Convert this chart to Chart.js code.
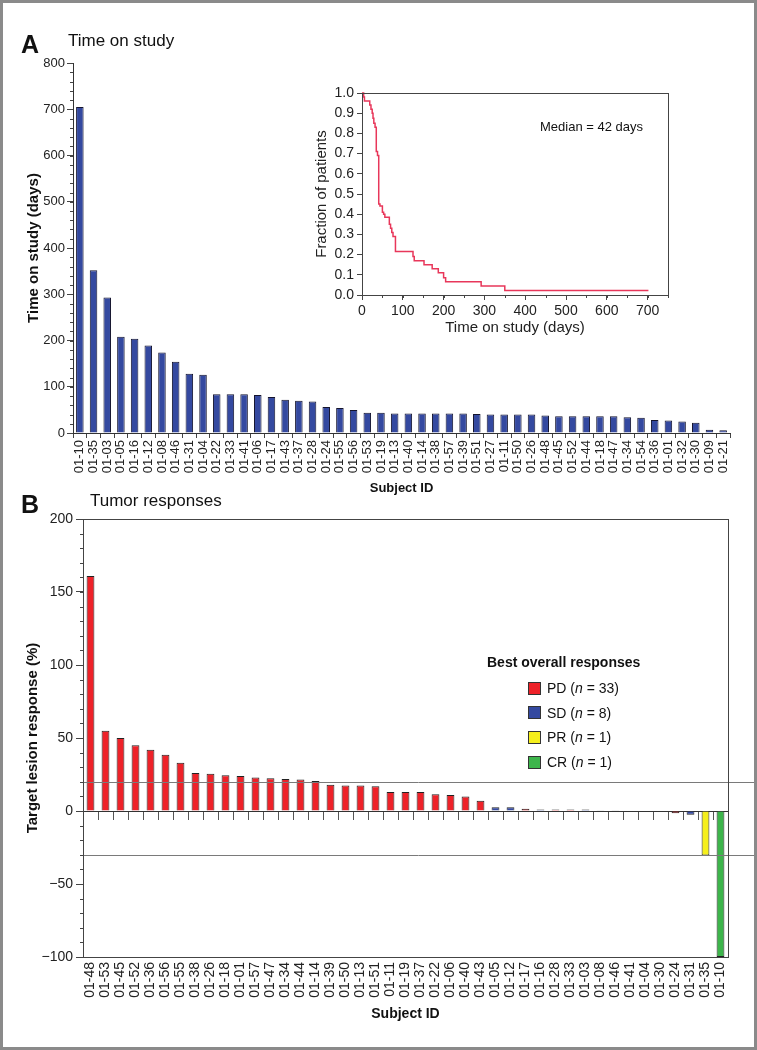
<!DOCTYPE html>
<html>
<head>
<meta charset="utf-8">
<script src="https://cdn.jsdelivr.net/npm/chart.js@4.4.1/dist/chart.umd.min.js"></script>
<style>
  html, body { margin: 0; padding: 0; background: #fff; }
  #page { position: relative; width: 757px; height: 1050px; overflow: hidden;
          font-family: 'Liberation Sans', Arial, sans-serif; color: #111; }
  #page canvas { position: absolute; }
  .txt { position: absolute; white-space: nowrap; line-height: 1; }
  .sw { position: absolute; width: 11px; height: 11px; border: 1px solid #333; }
  #frame { position: absolute; left: 0; top: 0; width: 757px; height: 1050px;
           box-sizing: border-box; border: 3px solid #8a8a8a; pointer-events: none; }
</style>
</head>
<body>
<div id="page">
  <canvas id="chartA" width="757" height="500" style="left:0;top:0"></canvas>
  <canvas id="chartInset" width="400" height="260" style="left:300px;top:80px"></canvas>
  <canvas id="chartB" width="757" height="550" style="left:0;top:500px"></canvas>

  <div class="txt" style="left:21px;top:32px;font-size:25px;font-weight:bold">A</div>
  <div class="txt" style="left:68px;top:32px;font-size:17px">Time on study</div>
  <div class="txt" style="left:540px;top:120px;font-size:13px">Median = 42 days</div>

  <div class="txt" style="left:21px;top:492px;font-size:25px;font-weight:bold">B</div>
  <div class="txt" style="left:90px;top:492px;font-size:17px">Tumor responses</div>

  <div id="legendB"></div>
  <div id="frame"></div>
</div>

<script>
Chart.defaults.font.family = "'Liberation Sans', Arial, sans-serif";
Chart.defaults.color = '#222';

// Panel A: time on study per subject (days)
const subjectsA = ['01-10','01-35','01-03','01-05','01-16','01-12','01-08','01-46','01-31','01-04',
  '01-22','01-33','01-41','01-06','01-17','01-43','01-37','01-28','01-24','01-55',
  '01-56','01-53','01-19','01-13','01-40','01-14','01-38','01-57','01-39','01-51',
  '01-27','01-11','01-50','01-26','01-48','01-45','01-52','01-44','01-18','01-47',
  '01-34','01-54','01-36','01-01','01-32','01-30','01-09','01-21'];
const daysA = [705, 352, 293, 208, 204, 189, 174, 154, 128, 126,
  84, 84, 84, 82, 78, 72, 70, 68, 56, 54,
  50, 44, 44, 42, 42, 42, 42, 42, 42, 41,
  40, 40, 40, 40, 38, 36, 36, 36, 36, 36,
  34, 33, 28, 27, 25, 22, 7, 6];

// Inset: fraction of patients still on study (step points)
const kmDays = [0, 4, 6, 19, 22, 25, 27, 29, 32, 35, 38, 41, 44, 50, 53, 56, 67, 70, 73, 76,
  82, 125, 128, 152, 172, 187, 200, 205, 292, 350, 702];
const kmFraction = [1.0, 0.98, 0.96, 0.94, 0.92, 0.90, 0.875, 0.85, 0.83, 0.71, 0.69, 0.45, 0.44,
  0.41, 0.40, 0.385, 0.35, 0.33, 0.31, 0.29, 0.215, 0.19, 0.17, 0.15, 0.13, 0.11, 0.085,
  0.065, 0.044, 0.022, 0.022];
const insetTicksX = [0, 100, 200, 300, 400, 500, 600, 700];

// Panel B: target lesion response (%)
const subjectsB = ['01-48','01-53','01-45','01-52','01-36','01-56','01-55','01-38','01-26','01-18',
  '01-01','01-57','01-47','01-34','01-44','01-14','01-39','01-50','01-13','01-51',
  '01-11','01-19','01-37','01-22','01-06','01-40','01-43','01-05','01-12','01-17',
  '01-16','01-28','01-33','01-03','01-08','01-46','01-41','01-04','01-30','01-24',
  '01-31','01-35','01-10'];
const responseB = [161, 55, 50, 45, 42, 38.5, 33, 26, 25.5, 24.5,
  24, 23, 22.5, 22, 21.5, 20.5, 18, 17.5, 17.5, 17,
  13, 13, 13, 11.5, 11, 10, 7, 2.5, 2.5, 1.5,
  1, 1, 1, 1, 0.5, 0.5, 0, 0, 0, -1.5,
  -2.5, -30.5, -100];
const bestResponseB = ['PD','PD','PD','PD','PD','PD','PD','PD','PD','PD',
  'PD','PD','PD','PD','PD','PD','PD','PD','PD','PD',
  'PD','PD','PD','PD','PD','PD','PD','SD','SD','PD',
  'SD','PD','PD','SD','SD','SD','SD','PD','PD','PD',
  'SD','PR','CR'];
const legendClasses = ['PD', 'SD', 'PR', 'CR'];
const legendCounts = [33, 8, 1, 1];
const thresholdLines = [20, -30];

const classColors = { PD: '#ee2229', SD: '#3449a0', PR: '#f5ef1c', CR: '#3db54b' };

// small tick marks between the labelled ones
function minorTicks(axisId, step, len) {
  return {
    id: 'minor_' + axisId,
    afterDraw(chart) {
      const s = chart.scales[axisId];
      const ctx = chart.ctx;
      const n = Math.round((s.max - s.min) / step);
      ctx.save();
      ctx.strokeStyle = '#444';
      ctx.lineWidth = 1;
      ctx.beginPath();
      for (let i = 0; i <= n; i++) {
        const p = Math.round(s.getPixelForValue(s.min + i * step)) + 0.5;
        if (s.isHorizontal()) {
          ctx.moveTo(p, s.top); ctx.lineTo(p, s.top + len);
        } else {
          ctx.moveTo(s.right, p); ctx.lineTo(s.right - len, p);
        }
      }
      ctx.stroke();
      ctx.restore();
    }
  };
}

const boxPlugin = {
  id: 'box',
  afterDraw(chart) {
    const a = chart.chartArea, ctx = chart.ctx;
    ctx.save();
    ctx.strokeStyle = '#444';
    ctx.lineWidth = 1;
    ctx.strokeRect(Math.round(a.left) + 0.5, Math.round(a.top) + 0.5,
      Math.round(a.right - a.left), Math.round(a.bottom - a.top));
    ctx.restore();
  }
};

const refLinesPlugin = {
  id: 'refLines',
  afterDatasetsDraw(chart) {
    const y = chart.scales.y, ctx = chart.ctx;
    ctx.save();
    ctx.strokeStyle = '#7a7a7a';
    ctx.lineWidth = 1;
    thresholdLines.forEach(v => {
      const p = Math.round(y.getPixelForValue(v)) + 0.5;
      ctx.beginPath();
      ctx.moveTo(chart.chartArea.left, p);
      ctx.lineTo(chart.width - 3, p);
      ctx.stroke();
    });
    ctx.restore();
  }
};

// Gráfico A: tempo em estudo
new Chart(document.getElementById('chartA'), {
  type: 'bar',
  data: {
    labels: subjectsA,
    datasets: [{
      data: daysA,
      backgroundColor: '#3449a0',
      borderColor: '#14142e',
      borderWidth: 1,
      barPercentage: 0.55,
      categoryPercentage: 1
    }]
  },
  options: {
    responsive: false,
    animation: false,
    layout: { padding: { left: 0, right: 27, top: 63, bottom: 0 } },
    plugins: { legend: { display: false }, tooltip: { enabled: false } },
    scales: {
      x: {
        grid: { drawOnChartArea: false, tickLength: 5, color: '#444' },
        border: { color: '#333' },
        ticks: { font: { size: 13 }, minRotation: 90, maxRotation: 90, autoSkip: false, padding: 2 },
        title: { display: true, text: 'Subject ID', font: { size: 13, weight: 'bold' }, color: '#111',
                 padding: { top: 0, bottom: 4 } },
        afterFit(s) { s.height = 67; }
      },
      y: {
        min: 0,
        max: 800,
        ticks: { stepSize: 100, font: { size: 13 }, padding: 2 },
        grid: { drawOnChartArea: false, tickLength: 6, color: '#444' },
        border: { color: '#333' },
        title: { display: true, text: 'Time on study (days)', font: { size: 15, weight: 'bold' }, color: '#111',
                 padding: { top: 25, bottom: 0 } },
        afterFit(s) { s.width = 73; }
      }
    }
  },
  plugins: [minorTicks('y', 20, 3)]
});

// Inset: fraction of patients
new Chart(document.getElementById('chartInset'), {
  type: 'line',
  data: {
    datasets: [{
      data: kmDays.map((d, i) => ({ x: d, y: kmFraction[i] })),
      borderColor: '#e8375a',
      borderWidth: 1.5,
      stepped: 'before',
      pointRadius: 0,
      fill: false,
      clip: false
    }]
  },
  options: {
    responsive: false,
    animation: false,
    layout: { padding: { left: 0, right: 32, top: 13, bottom: 0 } },
    plugins: { legend: { display: false }, tooltip: { enabled: false } },
    scales: {
      x: {
        type: 'linear',
        min: 0,
        max: 750,
        afterBuildTicks(s) { s.ticks = insetTicksX.map(v => ({ value: v })); },
        ticks: { font: { size: 14 }, padding: 3, maxRotation: 0, autoSkip: false },
        grid: { drawOnChartArea: false, tickLength: 5, color: '#444' },
        border: { color: '#444' },
        title: { display: true, text: 'Time on study (days)', font: { size: 15 }, padding: { top: 0, bottom: 3 } },
        afterFit(s) { s.height = 45; }
      },
      y: {
        min: 0,
        max: 1,
        ticks: { stepSize: 0.1, font: { size: 14 }, padding: 3, callback: v => v.toFixed(1) },
        grid: { drawOnChartArea: false, tickLength: 5, color: '#444' },
        border: { color: '#444' },
        title: { display: true, text: 'Fraction of patients', font: { size: 15 }, padding: { top: 13, bottom: 0 } },
        afterFit(s) { s.width = 62; }
      }
    }
  },
  plugins: [minorTicks('x', 50, 3), boxPlugin]
});

// Gráfico B: resposta tumoral
new Chart(document.getElementById('chartB'), {
  type: 'bar',
  data: {
    labels: subjectsB,
    datasets: [{
      data: responseB,
      backgroundColor: bestResponseB.map(c => classColors[c]),
      borderColor: '#222',
      borderWidth: ctx => (responseB[ctx.dataIndex] === 0 ? 0 : 1),
      barPercentage: 0.52,
      categoryPercentage: 1
    }]
  },
  options: {
    responsive: false,
    animation: false,
    layout: { padding: { left: 0, right: 29, top: 19, bottom: 23 } },
    plugins: { legend: { display: false }, tooltip: { enabled: false } },
    scales: {
      x: {
        grid: { drawOnChartArea: false, drawTicks: false, color: '#444' },
        border: { color: '#444' },
        ticks: { font: { size: 14 }, minRotation: 90, maxRotation: 90, autoSkip: false, padding: 5 },
        title: { display: true, text: 'Subject ID', font: { size: 14, weight: 'bold' }, color: '#111',
                 padding: { top: 0, bottom: 4 } },
        afterFit(s) { s.height = 70; }
      },
      x2: {
        type: 'category',
        position: { y: 0 },
        offset: true,
        grid: { offset: true, drawOnChartArea: false, tickLength: 8, color: '#555' },
        border: { color: '#333' },
        ticks: { display: false }
      },
      y: {
        min: -100,
        max: 200,
        ticks: { stepSize: 50, font: { size: 14 }, padding: 3,
                 callback: v => (v < 0 ? '\u2212' + Math.abs(v) : '' + v) },
        grid: { drawOnChartArea: false, tickLength: 7, color: '#444' },
        border: { color: '#444' },
        title: { display: true, text: 'Target lesion response (%)', font: { size: 15, weight: 'bold' }, color: '#111',
                 padding: { top: 24, bottom: 0 } },
        afterFit(s) { s.width = 83; }
      }
    }
  },
  plugins: [minorTicks('y', 10, 3), refLinesPlugin, boxPlugin]
});

// legend for panel B
const legendBox = document.getElementById('legendB');
let html = '<div class="txt" style="left:487px;top:655px;font-size:14px;font-weight:bold">Best overall responses</div>';
legendClasses.forEach((c, i) => {
  const cy = 688 + i * 24.7;
  html += '<div class="sw" style="left:528px;top:' + (cy - 6.5) + 'px;background:' + classColors[c] + '"></div>';
  html += '<div class="txt" style="left:547px;top:' + (cy - 7) + 'px;font-size:14px">' + c +
          ' (<i>n</i> = ' + legendCounts[i] + ')</div>';
});
legendBox.innerHTML = html;
</script>
</body>
</html>
